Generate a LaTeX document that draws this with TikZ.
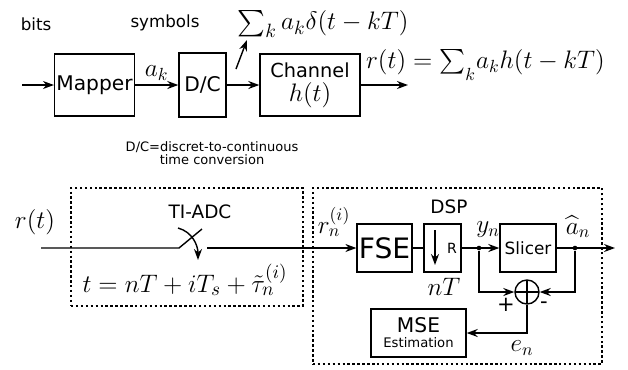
\documentclass[tikz,border=0pt]{standalone}
\usepackage[no-math]{fontspec}
\setmainfont{DejaVu Sans}
\usepackage{amsmath,amssymb}
\usepackage{tikz}
\usetikzlibrary{
  arrows.meta,
  positioning,
  calc
}
\newcommand{\fs}[1]{\fontsize{#1}{#1}\selectfont}

\begin{document}
\begin{tikzpicture}[
  blk/.style  ={draw,line width=0.8pt,inner sep=1pt,align=center,font=\fs{11.5}},
  lbl/.style  ={font=\fs{9.5}},
  mth/.style  ={font=\fs{14},inner sep=1pt},
  sig/.style  ={-{Stealth[length=2.2mm,width=1.6mm]},line width=0.8pt},
  wire/.style ={line width=0.8pt},
  zone/.style ={draw,line width=0.9pt,dash pattern=on 1.4pt off 1.4pt,
                inner sep=0pt,outer sep=0pt},
  jdot/.style ={circle,fill,inner sep=0pt,minimum size=2.6pt},
  adder/.style={draw,circle,line width=0.8pt,minimum size=0.48cm,inner sep=0pt,
                path picture={\draw[line width=0.8pt]
                  (path picture bounding box.north) -- (path picture bounding box.south)
                  (path picture bounding box.west)  -- (path picture bounding box.east);}},
]
\useasboundingbox (0,0) rectangle (12.56,-7.38);

% transmitter chain
\node[lbl] (bits) at (0.72,-0.48) {bits};
\node[lbl] (sym)  at (3.30,-0.46) {symbols};
\node[blk,minimum width=1.58cm,minimum height=1.24cm] (map)  at (1.89,-1.70) {Mapper};
\node[blk,minimum width=0.94cm,minimum height=1.28cm] (dc)   at (4.05,-1.70) {D/C};
\node[blk,minimum width=2.00cm,minimum height=1.24cm] (chan) at (6.20,-1.70)
  {\fs{11}Channel\\[2pt]\fs{14}$h(t)$};
\node[mth,font=\fs{15},inner sep=0pt] (imp) at (6.46,-0.48) {$\sum_k a_k\delta(t-kT)$};
\node[mth,anchor=west,font=\fs{14}] (rt) at (7.28,-1.30)
  {$r(t)=\sum_{\raisebox{-3pt}{$\scriptstyle k$}}\! a_k h(t-kT)$};
\node[font=\fs{7.4},align=center] (cap) at (4.24,-3.06)
  {D/C=discret-to-continuous\\time conversion};

\coordinate (src)  at (0.44,-1.70);
\coordinate (out)  at (8.16,-1.70);
\coordinate (impA) at (4.72,-1.38);
\coordinate (impB) at (4.94,-0.80);

\draw[sig] (src)  -- (map);
\draw[sig] (map)  -- node[mth,above=1pt]{$a_k$} (dc);
\draw[sig] (dc)   -- (chan);
\draw[sig] (chan) -- (out);
\draw[sig] (impA) -- (impB);

% receiver: TI-ADC
\node[zone,minimum width=4.64cm,minimum height=2.36cm] (adc) at (3.74,-4.94) {};
\node[font=\fs{10.5}] (adcl) at (4.00,-4.24) {TI-ADC};
\node[mth] (rin) at (0.70,-4.44) {$r(t)$};
\node[mth,font=\fs{15.5}] (tk) at (3.70,-5.60) {$t=nT+iT_s+\tilde{\tau}_n^{(i)}$};

\coordinate (lin)  at (0.82,-4.96);
\coordinate (swA)  at (3.58,-4.96);
\coordinate (swB)  at (4.04,-4.58);
\coordinate (swC)  at (4.14,-4.96);
\coordinate (rotA) at (3.56,-4.56);
\coordinate (rotB) at (3.96,-5.20);

\draw[wire] (lin) -- (swA) -- (swB);
\draw[sig]  (rotA) to[out=-15,in=90] (rotB);

% receiver: DSP
\node[zone,minimum width=5.78cm,minimum height=3.52cm] (dsp) at (9.15,-5.52) {};
\node[font=\fs{10.5}] (dspl) at (8.98,-4.14) {DSP};
\node[blk,font=\fs{16},minimum width=1.06cm,minimum height=0.96cm] (fse) at (7.69,-4.96) {FSE};
\node[blk,minimum width=0.74cm,minimum height=0.96cm] (dec) at (8.85,-4.96) {};
\node[font=\fs{8}] (decR) at (9.04,-4.96) {R};
\node[blk,font=\fs{9.6},minimum width=1.12cm,minimum height=0.96cm] (slc) at (10.56,-4.96) {Slicer};
\node[adder] (err) at (10.54,-5.84) {};
\node[blk,minimum width=1.90cm,minimum height=0.96cm] (mse) at (8.37,-6.66)
  {MSE\\[-3pt]\fs{7.5}Estimation};
\node[jdot] (jy) at (9.58,-4.96) {};
\node[jdot] (ja) at (11.50,-4.96) {};

\node[mth] (rn)  at (6.68,-4.44) {$r_n^{(i)}$};
\node[mth] (yn)  at (9.76,-4.60) {$y_n$};
\node[mth] (an)  at (11.56,-4.54) {$\widehat{a}_n$};
\node[mth] (nT)  at (8.88,-5.74) {$nT$};
\node[mth] (en)  at (10.44,-6.96) {$e_n$};
\node[font=\fs{12}] (pl) at (10.12,-6.10) {+};
\node[font=\fs{12}] (mi) at (10.88,-6.10) {-};

\coordinate (decT) at (8.70,-4.60);
\coordinate (decB) at (8.70,-5.30);
\coordinate (aout) at (12.30,-4.96);

\draw[sig]  (swC) -- (fse);
\draw[wire] (fse) -- (dec);
\draw[sig]  (decT) -- (decB);
\draw[sig]  (dec) -- (slc);
\draw[sig]  (slc) -- (aout);
\draw[sig]  (jy)  |- (err);
\draw[sig]  (ja)  |- (err);
\draw[sig]  (err) |- (mse);
\end{tikzpicture}
\end{document}
